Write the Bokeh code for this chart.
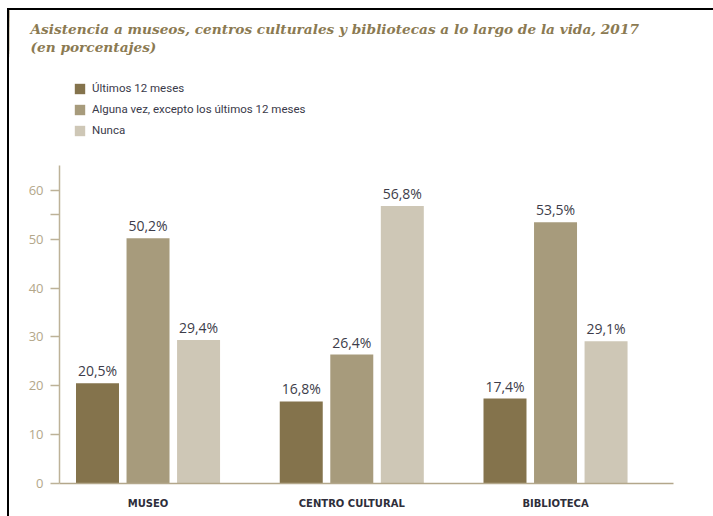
from bokeh.plotting import figure
from bokeh.layouts import column, row
from bokeh.core.properties import value
from bokeh.models import (ColumnDataSource, FixedTicker, Label, LabelSet, Legend, LegendItem,
                          Range1d, Spacer)
from bokeh.embed import file_html
from bokeh.resources import INLINE

# ---- data ----
categories = ["MUSEO", "CENTRO CULTURAL", "BIBLIOTECA"]
series_names = ["Últimos 12 meses", "Alguna vez, excepto los últimos 12 meses", "Nunca"]
ultimos_12 = [20.5, 16.8, 17.4]
alguna_vez = [50.2, 26.4, 53.5]
nunca = [29.4, 56.8, 29.1]
y_ticks = [0, 10, 20, 30, 40, 50, 60]
title_lines = ["Asistencia a museos, centros culturales y bibliotecas a lo largo de la vida, 2017",
               "(en porcentajes)"]

series = [ultimos_12, alguna_vez, nunca]
colors = ["#84734c", "#a79b7c", "#cec7b6"]
offsets = [-0.248, 0.0, 0.248]
bar_w = 0.211

# ---------- header figure (title + legend) ----------
hdr = figure(width=704, height=155, output_backend="svg", toolbar_location=None,
             x_range=Range1d(9, 713), y_range=Range1d(165, 10),
             min_border=0, x_axis_type=None, y_axis_type=None)
hdr.outline_line_color = None
hdr.grid.grid_line_color = None
try:
    hdr.frame_align = False
except Exception:
    pass

hdr_renderers = []
for vals, name, col, off in zip(series, series_names, colors, offsets):
    xs = [i + off for i in range(len(categories))]
    r = hdr.vbar(x=xs, top=vals, width=bar_w, fill_color=col, line_color=None)
    hdr_renderers.append((name, r))

for i, t in enumerate(title_lines):
    hdr.add_layout(Label(x=30, y=28.5 + 17.5 * i, text=t,
                         text_font="DejaVu Serif", text_font_style="bold italic",
                         text_font_size="13.7px", text_color="#8b7a52",
                         text_baseline="alphabetic"))

legend = Legend(items=[LegendItem(label=n, renderers=[r]) for n, r in hdr_renderers],
                location=(64, 28), orientation="vertical",
                glyph_width=13, glyph_height=13, label_height=13, spacing=7,
                label_standoff=6, padding=0, margin=0,
                border_line_color=None, background_fill_alpha=0,
                label_text_font="Roboto", label_text_font_size="11.5px",
                label_text_color="#3a3a4a")
hdr.add_layout(legend, "center")

# ---------- chart figure ----------
p = figure(width=704, height=351, output_backend="svg", toolbar_location=None,
           x_range=Range1d(-0.4345, 2.579), y_range=Range1d(0, 65.1),
           min_border_left=50, min_border_right=40, min_border_top=0, min_border_bottom=33)
p.outline_line_color = None
p.grid.grid_line_color = None
try:
    p.frame_align = False
except Exception:
    pass

for vals, name, col, off in zip(series, series_names, colors, offsets):
    xs = [i + off for i in range(len(categories))]
    src = ColumnDataSource(dict(x=xs, top=vals, lab=[("%.1f" % v).replace(".", ",") + "%" for v in vals]))
    p.vbar(x="x", top="top", width=bar_w, source=src, fill_color=col, line_color=None)
    p.add_layout(LabelSet(x="x", y="top", text="lab", source=src, text_align="center",
                          text_baseline="alphabetic", y_offset=7, text_font_size=value("14px"),
                          text_font=value("Open Sans"), text_color=value("#3d3d4a")))

p.xaxis.ticker = FixedTicker(ticks=list(range(len(categories))))
p.xaxis.major_label_overrides = {i: c for i, c in enumerate(categories)}
p.xaxis.axis_line_color = "#b3a78b"
p.xaxis.axis_line_width = 1.5
p.xaxis.major_tick_line_color = None
p.xaxis.minor_tick_line_color = None
p.xaxis.major_label_text_font = "DejaVu Sans"
p.xaxis.major_label_text_font_style = "bold"
p.xaxis.major_label_text_font_size = "10px"
p.xaxis.major_label_text_color = "#2e2e3a"
p.xaxis.major_label_standoff = 8

p.yaxis.ticker = FixedTicker(ticks=y_ticks, minor_ticks=[55])
p.yaxis.axis_line_color = "#bdb298"
p.yaxis.axis_line_width = 1.5
p.yaxis.major_tick_line_color = "#bdb298"
p.yaxis.major_tick_line_width = 1.5
p.yaxis.major_tick_out = 9
p.yaxis.major_tick_in = 0
p.yaxis.minor_tick_line_color = "#bdb298"
p.yaxis.minor_tick_line_width = 1.5
p.yaxis.minor_tick_out = 9
p.yaxis.minor_tick_in = 0
p.yaxis.major_label_text_font = "Open Sans"
p.yaxis.major_label_text_font_size = "13px"
p.yaxis.major_label_text_color = "#b3a78a"
p.yaxis.major_label_standoff = 7

inner = column(hdr, p)
inner.styles = {"border-top": "2px solid black", "border-left": "2px solid black"}
layout = column(Spacer(height=8), row(Spacer(width=7), inner))

open("out.html", "w").write(file_html(layout, INLINE))
